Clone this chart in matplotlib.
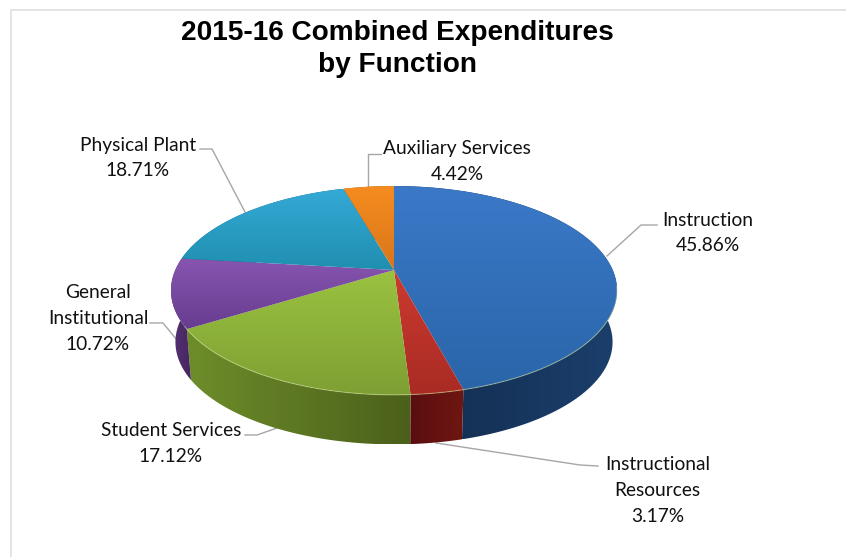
import numpy as np
import matplotlib
matplotlib.use("Agg")
import matplotlib.pyplot as plt
from matplotlib.colors import LinearSegmentedColormap
from matplotlib.patches import Polygon

title = "2015-16 Combined Expenditures\nby Function"
functions = ["Instruction", "Instructional\nResources", "Student Services",
             "General\nInstitutional", "Physical Plant", "Auxiliary Services"]
shares = [45.86, 3.17, 17.12, 10.72, 18.71, 4.42]

# light/dark pairs for the top of each slice and its rim
top_colors = [("#3b79c8", "#2a65a9"), ("#cc3a2f", "#a92b24"), ("#9ac240", "#7e9f33"),
              ("#8755b0", "#673d90"), ("#35aad6", "#1f8fb0"), ("#f68c20", "#d8761a")]
side_colors = [("#122b4c", "#1b3f6c"), ("#5a0e10", "#6f1712"), ("#6e8d2a", "#4b601b"),
               ("#553274", "#462660"), ("#17607a", "#17607a"), ("#a05a12", "#a05a12")]

# pie geometry in pixels, with a perspective term that pulls the far edge in
CX, CY = 394, 270
RX, RY = 218.7, 100.4
K = 0.196
DEPTH = 52
BOTTOM_SCALE = 0.98


def project(angle, radius=1.0, lower=False):
    # angle runs clockwise from twelve o'clock
    x = radius * np.sin(angle)
    y = radius * np.cos(angle)
    w = 1 + K * y
    scale = BOTTOM_SCALE if lower else 1.0
    shift = DEPTH if lower else 0
    return CX + scale * RX * x / w, CY + shift - scale * RY * y / w


def gradient_fill(ax, pts, c0, c1, vertical=True, zorder=2):
    cmap = LinearSegmentedColormap.from_list("g", [c0, c1])
    x0, x1 = pts[:, 0].min(), pts[:, 0].max()
    y0, y1 = pts[:, 1].min(), pts[:, 1].max()
    ramp = np.linspace(0, 1, 128)
    ramp = ramp[:, None] if vertical else ramp[None, :]
    im = ax.imshow(ramp, cmap=cmap, extent=(x0, x1, y1, y0), aspect="auto",
                   interpolation="bilinear", zorder=zorder)
    patch = Polygon(pts, closed=True, transform=ax.transData, fc="none", ec="none")
    ax.add_patch(patch)
    im.set_clip_path(patch)


fig = plt.figure(figsize=(8.46, 5.57), dpi=100, facecolor="white")
ax = fig.add_axes([0, 0, 1, 1])

edges = np.cumsum([0] + shares) / sum(shares) * 2 * np.pi

# rims first, the top faces then cover the back half
for i in range(len(shares)):
    t = np.linspace(edges[i], edges[i + 1], 120)
    ux, uy = project(t)
    lx, ly = project(t, lower=True)
    pts = np.column_stack([np.r_[ux, lx[::-1]], np.r_[uy, ly[::-1]]])
    gradient_fill(ax, pts, side_colors[i][0], side_colors[i][1], vertical=False, zorder=2)

for i in range(len(shares)):
    t = np.linspace(edges[i], edges[i + 1], 120)
    ux, uy = project(t)
    pts = np.column_stack([np.r_[CX, ux], np.r_[CY, uy]])
    gradient_fill(ax, pts, top_colors[i][0], top_colors[i][1], zorder=3)

# soft highlight along the front of the top face
t = np.linspace(np.pi * 0.55, np.pi * 1.33, 200)
ax.plot(*project(t), color="#d6e59a", lw=0.8, alpha=0.45, zorder=4)

# leader lines
leader_color = "#a6a6a6"
leaders = [[(657, 225), (641, 225), (607, 256)],
           [(598, 466), (580, 465), (436, 443)],
           [(245, 435), (257, 435), (277, 428)],
           [(150, 323), (163, 323), (177, 340)],
           [(200, 149), (212, 149), (245, 212)],
           [(381, 154), (368, 154), (368, 186)]]
for line in leaders:
    xs, ys = zip(*line)
    ax.plot(xs, ys, color=leader_color, lw=1.0, zorder=1)

# labels
label_pos = [(707.5, 233), (657.5, 490.5), (171, 443.5), (98, 318.5), (138, 158), (457, 161.5)]
label_font = dict(family="Lato", fontsize=13.8, color="#111111", ha="center",
                  va="center", linespacing=1.62)
for name, share, (lx, ly) in zip(functions, shares, label_pos):
    ax.text(lx, ly, f"{name}\n{share:.2f}%", **label_font)

ax.text(397, 49, title, family="Liberation Sans", fontweight="bold", fontsize=20.2,
        color="black", ha="center", va="center", linespacing=1.27)

# chart frame, open towards the page edge
ax.plot([10.5, 10.5, 846], [557, 9.5, 9.5], color="#dddddd", lw=1.1, zorder=1)

ax.set_xlim(0, 846)
ax.set_ylim(557, 0)
ax.axis("off")
fig.savefig("out.png", dpi=100, facecolor="white")
